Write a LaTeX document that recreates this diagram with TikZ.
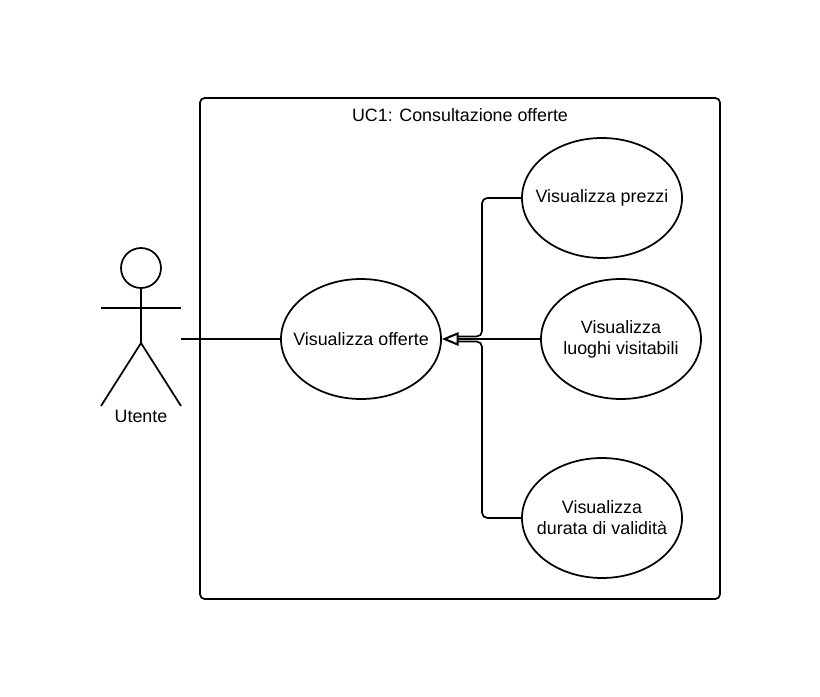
\documentclass[tikz,border=0pt]{standalone}
\usepackage{fontspec}
\setmainfont{Liberation Sans}
\usetikzlibrary{arrows.meta,positioning,shapes.geometric}

\tikzset{
  usecase/.style={ellipse,draw,line width=1.3pt,fill=white,minimum width=120pt,minimum height=90pt,inner sep=-12pt,align=center},
  sysbox/.style={draw,line width=1.3pt,rounded corners=3.5pt,minimum width=390pt,minimum height=375.75pt,inner sep=0pt},
  actorhead/.style={circle,draw,line width=1.3pt,minimum size=30pt,inner sep=0pt},
  label/.style={inner sep=0pt},
  stroke/.style={line width=1.3pt},
  gen/.style={line width=1.3pt,rounded corners=4pt},
  genhead/.style={line width=1.3pt,-{Triangle[open,fill=white,length=12.5pt,width=10pt,line width=1.5pt]}}
}

\begin{document}
\begin{tikzpicture}[x=0.75pt,y=-0.75pt,on grid,font=\fontsize{13.4}{15.8}\selectfont]
 \useasboundingbox (0,0) rectangle (820,696);
 \node[sysbox] (system) at (460,348.5) {};
 \node[label] (title) at (460,115) {UC1: Consultazione offerte};
 \node[usecase] (offerte) at (361,339) {Visualizza offerte};
 \node[usecase] (luoghi) [right=195pt of offerte] {Visualizza\\luoghi visitabili};
 \node[usecase] (prezzi) [above right=105.75pt and 180.75pt of offerte] {Visualizza prezzi};
 \node[usecase] (durata) [below right=134.25pt and 180.75pt of offerte] {Visualizza\\durata di validità};
 % actor
 \node[actorhead] (head) at (141,268) {};
 \coordinate (neck) at (141,308);
 \coordinate (hip) at (141,343);
 \coordinate (lefthand) at (101,308);
 \coordinate (righthand) at (181,308);
 \coordinate (leftfoot) at (101,406);
 \coordinate (rightfoot) at (181,406);
 \coordinate (link) at (181,339);
 \node[label] (utente) at (141,416) {Utente};
 \draw[stroke] (head) -- (hip);
 \draw[stroke] (lefthand) -- (righthand);
 \draw[stroke] (leftfoot) -- (hip) -- (rightfoot);
 \draw[stroke] (link) -- (offerte);
 % generalizations
 \coordinate (upper) at (450,336.5);
 \coordinate (lower) at (450,341.5);
 \draw[gen] (prezzi.west) -| (482,336.5) -- (upper);
 \draw[gen] (durata.west) -| (482,341.5) -- (lower);
 \draw[genhead] (luoghi.west) -- (offerte.east);
\end{tikzpicture}
\end{document}
